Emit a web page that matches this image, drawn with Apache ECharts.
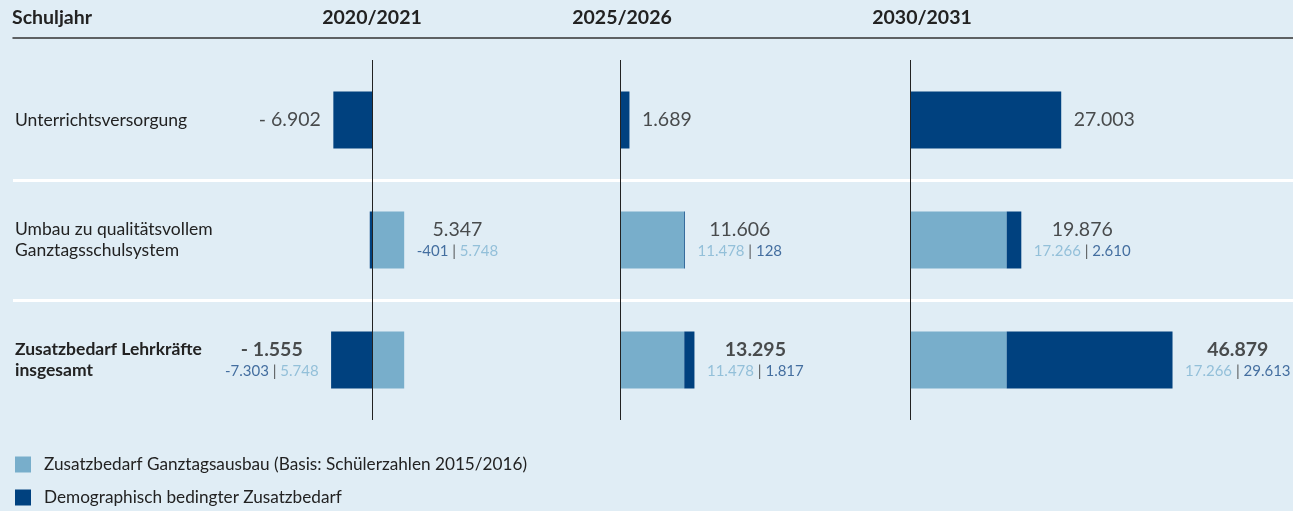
<!DOCTYPE html>
<html lang="de">
<head>
<meta charset="UTF-8">
<title>Zusatzbedarf Lehrkräfte</title>
<script src="https://cdn.jsdelivr.net/npm/echarts@6/dist/echarts.min.js"></script>
<style>
  * { margin: 0; padding: 0; }
  body { background: #e0edf5; }
  #chart { width: 1293px; height: 511px; }
</style>
</head>
<body>
<div id="chart"></div>
<script>
// --- Daten -------------------------------------------------------------
const years = ['2020/2021', '2025/2026', '2030/2031'];
const rows = ['Unterrichtsversorgung', 'Umbau zu qualitätsvollem\nGanztagsschulsystem', 'Zusatzbedarf Lehrkräfte\ninsgesamt'];
const seriesNames = ['Zusatzbedarf Ganztagsausbau (Basis: Schülerzahlen 2015/2016)', 'Demographisch bedingter Zusatzbedarf'];

// pro Schuljahr: [Unterrichtsversorgung, Umbau, insgesamt]
const ganztag2020 = [null, 5748, 5748];
const ganztag2025 = [null, 11478, 11478];
const ganztag2030 = [null, 17266, 17266];
const demografie2020 = [-6902, -401, -7303];
const demografie2025 = [1689, 128, 1817];
const demografie2030 = [27003, 2610, 29613];
const gesamt2020 = [-6902, 5347, -1555];
const gesamt2025 = [1689, 11606, 13295];
const gesamt2030 = [27003, 19876, 46879];

const ganztag = [ganztag2020, ganztag2025, ganztag2030];
const demografie = [demografie2020, demografie2025, demografie2030];
const gesamt = [gesamt2020, gesamt2025, gesamt2030];

// --- Layout ------------------------------------------------------------
const zeroX = [372, 620, 910];     // x-Position der Nulllinie je Panel
const titleX = [372, 622, 922];    // Mitte der Spaltenüberschriften
const pxPer1000 = 5.6;
const xMin = -20000, xMax = 50000;
const gridTop = 60, gridBottom = 91;

const light = '#78aecb';
const dark = '#00417f';
const lightText = '#80b4d2';
const darkText = '#1b4d89';

function fmt(n) {
  return Math.abs(n).toString().replace(/\B(?=(\d{3})+(?!\d))/g, '.');
}

const chart = echarts.init(document.getElementById('chart'));

const grid = [{ left: 13, right: 0, top: gridTop, bottom: gridBottom }];
const xAxis = [{
  gridIndex: 0, type: 'value', position: 'top', offset: 22,
  axisLine: { show: true, onZero: false, lineStyle: { color: '#333', width: 1.5 } },
  axisTick: { show: false }, axisLabel: { show: false }, splitLine: { show: false }
}];
const yAxis = [{
  gridIndex: 0, type: 'value', min: 0, max: 3, interval: 1, inverse: true, position: 'right',
  axisLine: { show: false }, axisTick: { show: false }, axisLabel: { show: false },
  splitLine: { show: true, showMinLine: false, showMaxLine: false, lineStyle: { color: '#fff', width: 3 } }
}, {
  gridIndex: 0, type: 'category', data: rows, inverse: true, position: 'left',
  axisLine: { show: false }, axisTick: { show: false },
  axisLabel: {
    inside: true, margin: 2, fontSize: 17.5, color: '#222', lineHeight: 21,
    formatter: function (v, i) {
      if (i === 2) return v.split('\n').map(t => '{b|' + t + '}').join('\n');
      return v;
    },
    rich: { b: { fontWeight: 'bold', fontSize: 17.5, color: '#222', lineHeight: 21 } }
  }
}];
const series = [];
const title = [{ text: 'Schuljahr', left: 12, top: 8, padding: 0,
  textStyle: { fontSize: 19.5, fontWeight: 'bold', color: '#222' } }];

years.forEach(function (year, i) {
  grid.push({
    left: zeroX[i] + xMin * pxPer1000 / 1000,
    width: (xMax - xMin) * pxPer1000 / 1000,
    top: gridTop, bottom: gridBottom
  });
  xAxis.push({ gridIndex: i + 1, type: 'value', min: xMin, max: xMax, show: false });
  yAxis.push({ gridIndex: i + 1, type: 'category', data: rows, inverse: true, show: false });
  title.push({ text: year, left: titleX[i], top: 8, padding: 0, textAlign: 'center',
    textStyle: { fontSize: 19.5, fontWeight: 'bold', color: '#222' } });

  series.push({
    name: seriesNames[0], type: 'bar', stack: 'p' + i, xAxisIndex: i + 1, yAxisIndex: i + 2,
    barWidth: 57, itemStyle: { color: light }, data: ganztag[i], silent: true
  });
  series.push({
    name: seriesNames[1], type: 'bar', stack: 'p' + i, xAxisIndex: i + 1, yAxisIndex: i + 2,
    barWidth: 57, itemStyle: { color: dark }, data: demografie[i], silent: true,
    markLine: {
      silent: true, symbol: 'none', label: { show: false },
      lineStyle: { color: '#222', width: 1, type: 'solid' },
      data: [{ xAxis: 0 }]
    }
  });

  // unsichtbare Punkte am Balkenende tragen die Beschriftung
  const labelData = gesamt[i].map(function (total, r) {
    const parts = [ganztag[i][r] || 0, demografie[i][r] || 0];
    const edge = total >= 0
      ? parts.filter(v => v > 0).reduce((a, b) => a + b, 0)
      : parts.filter(v => v < 0).reduce((a, b) => a + b, 0);
    return {
      value: [edge, r],
      label: { position: total >= 0 ? 'right' : 'left' }
    };
  });
  series.push({
    type: 'scatter', xAxisIndex: i + 1, yAxisIndex: i + 2, symbolSize: 1, silent: true,
    itemStyle: { color: 'rgba(0,0,0,0)' }, z: 5,
    data: labelData,
    label: {
      show: true, distance: 12,
      formatter: function (p) {
        const r = p.dataIndex;
        const total = gesamt[i][r];
        const main = (total < 0 ? '- ' : '') + fmt(total);
        const key = r === 2 ? 'mb' : 'm';
        if (ganztag[i][r] == null) return '{' + key + '|' + main + '}';
        const d = demografie[i][r], g = ganztag[i][r];
        const dStr = '{d|' + (d < 0 ? '-' : '') + fmt(d) + '}';
        const gStr = '{l|' + fmt(g) + '}';
        const sub = d < 0 ? dStr + '{s| | }' + gStr : gStr + '{s| | }' + dStr;
        return '{' + key + '|' + main + '}\n' + sub;
      },
      rich: {
        m: { fontSize: 19.5, color: '#222', align: 'center', lineHeight: 23 },
        mb: { fontSize: 19.5, fontWeight: 'bold', color: '#222', align: 'center', lineHeight: 23 },
        d: { fontSize: 15, color: darkText, align: 'center', lineHeight: 20 },
        l: { fontSize: 15, color: lightText, align: 'center', lineHeight: 20 },
        s: { fontSize: 15, color: '#333', align: 'center', lineHeight: 20 }
      }
    }
  });
});

chart.setOption({
  backgroundColor: '#e0edf5',
  animation: false,
  textStyle: { fontFamily: 'Lato' },
  title: title,
  legend: {
    data: seriesNames, orient: 'vertical', left: 15, top: 456, padding: 0,
    icon: 'rect', itemWidth: 16, itemHeight: 16, itemGap: 16, selectedMode: false,
    textStyle: { fontSize: 17.2, color: '#222', padding: [0, 0, 0, 8] }
  },
  grid: grid,
  xAxis: xAxis,
  yAxis: yAxis,
  series: series
});
</script>
</body>
</html>
